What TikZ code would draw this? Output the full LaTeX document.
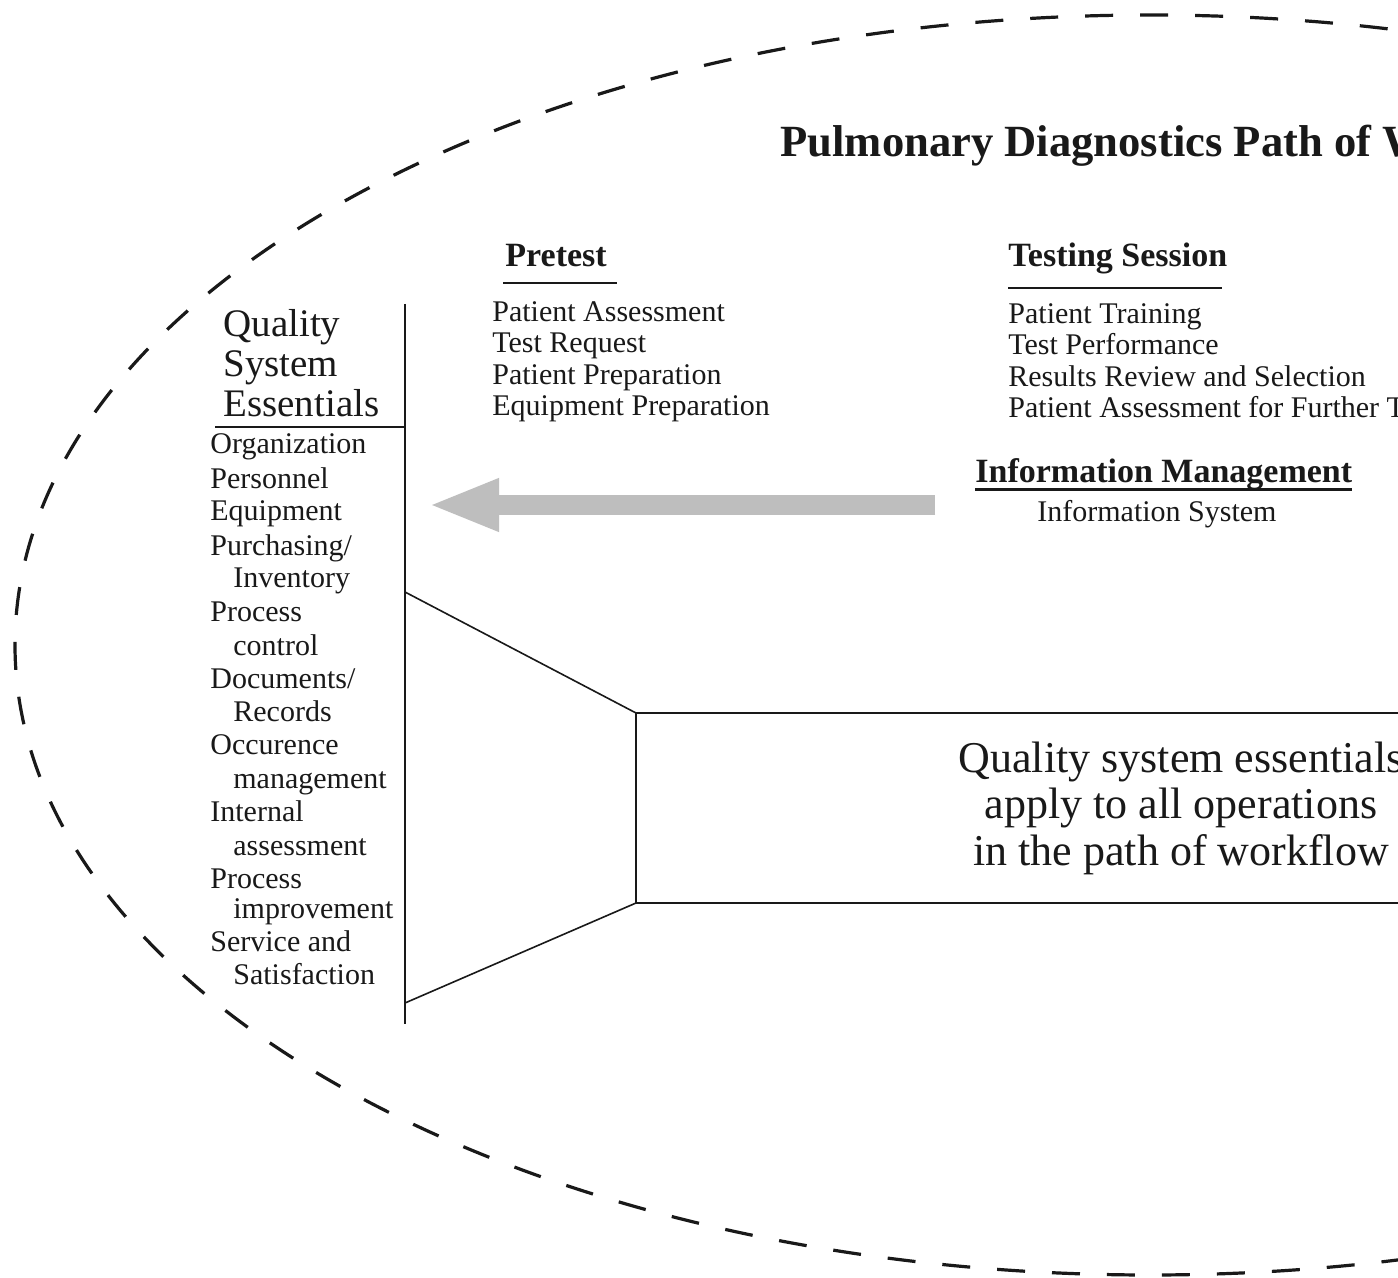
\documentclass[tikz,border=0pt]{standalone}
\usepackage{fontspec}
\setmainfont{Liberation Serif}
\usetikzlibrary{arrows.meta}
\definecolor{arrowgray}{RGB}{190,190,190}
\definecolor{ink}{RGB}{25,25,25}
\tikzset{
  txt/.style={anchor=base west, inner sep=0pt, text=ink, font=\fontsize{15}{16}\selectfont},
  headtxt/.style={anchor=base west, inner sep=0pt, text=ink, font=\fontsize{17}{19}\selectfont\bfseries},
  qsehead/.style={anchor=base west, inner sep=0pt, text=ink, font=\fontsize{19.5}{20}\selectfont},
  boxtxt/.style={anchor=base, inner sep=0pt, text=ink, font=\fontsize{22}{23}\selectfont},
  titletxt/.style={anchor=base west, inner sep=0pt, text=ink, font=\fontsize{22.3}{24}\selectfont\bfseries},
  rule/.style={draw=ink, line width=0.8pt},
  ovaldash/.style={draw=ink, line width=1.6pt, dash pattern=on 14pt off 13.5pt},
  bigarrow/.style={draw=arrowgray, line width=10pt, -{Triangle[length=35.5pt,width=24pt]}}
}
\begin{document}
\begin{tikzpicture}[x=0.5pt,y=-0.5pt]
\useasboundingbox (0,0) rectangle (1398,1278);
\clip (0,0) rectangle (1398,1278);
\fill[white] (0,0) rectangle (1398,1278);

% dashed oval
\draw[ovaldash] (1150,645) ellipse [x radius=1135, y radius=630];

% title
\node[titletxt] (title) at (780,157) {Pulmonary Diagnostics Path of Workflow};

% Pretest
\node[headtxt] (pretest) at (505,267) {Pretest};
\coordinate (pul) at (503,283);
\coordinate (pur) at (617,283);
\draw[rule, line width=1.3pt] (pul) -- (pur);
\node[txt] (p1) at (492,322) {Patient Assessment};
\node[txt] (p2) at (492,353) {Test Request};
\node[txt] (p3) at (492,385) {Patient Preparation};
\node[txt] (p4) at (492,416) {Equipment Preparation};

% Testing Session
\node[headtxt] (testing) at (1008,267) {Testing Session};
\coordinate (tul) at (1008,288);
\coordinate (tur) at (1222,288);
\draw[rule, line width=1.3pt] (tul) -- (tur);
\node[txt] (t1) at (1008,324) {Patient Training};
\node[txt] (t2) at (1008,355) {Test Performance};
\node[txt] (t3) at (1008,387) {Results Review and Selection};
\node[txt] (t4) at (1008,418) {Patient Assessment for Further Testing};

% Information Management
\node[headtxt] (info) at (975,483) {Information Management};
\coordinate (iul) at (975,490);
\coordinate (iur) at (1352,490);
\draw[rule, line width=1.5pt] (iul) -- (iur);
\node[txt] (i1) at (1037,522) {Information System};

% big gray arrow
\coordinate (arrS) at (935,505);
\coordinate (arrE) at (428,505);
\draw[bigarrow] (arrS) -- (arrE);

% Quality System Essentials heading
\node[qsehead] (q1) at (223,337) {Quality};
\node[qsehead] (q2) at (223,377) {System};
\node[qsehead] (q3) at (223,417) {Essentials};
\coordinate (vtop) at (405,304);
\coordinate (vbot) at (405,1024);
\draw[rule, line width=1.1pt] (vtop) -- (vbot);
\coordinate (hl) at (215,427);
\coordinate (hr) at (405,427);
\draw[rule, line width=1.1pt] (hl) -- (hr);

% QSE list
\foreach \yy/\xx/\tt [count=\i] in {
  454/210/Organization, 488/210/Personnel, 521/210/Equipment,
  555/210/Purchasing\slash, 588/233/Inventory, 621/210/Process,
  655/233/control, 688/210/Documents\slash, 721/233/Records,
  754/210/Occurence, 788/233/management, 821/210/Internal,
  855/233/assessment, 888/210/Process, 918/233/improvement,
  951/210/Service and, 984/233/Satisfaction}
  \node[txt] (qs\i) at (\xx,\yy) {\tt};

% funnel and box
\coordinate (fa) at (405,592);
\coordinate (fb) at (405,1003);
\coordinate (bl1) at (636,713);
\coordinate (bl2) at (636,903);
\coordinate (br1) at (1410,713);
\coordinate (br2) at (1410,903);
\draw[rule] (fa) -- (bl1) -- (br1);
\draw[rule] (fb) -- (bl2) -- (br2);
\draw[rule] (bl1) -- (bl2);

\node[boxtxt] (b1) at (1181,772) {Quality system essentials};
\node[boxtxt] (b2) at (1181,818) {apply to all operations};
\node[boxtxt] (b3) at (1181,865) {in the path of workflow};
\end{tikzpicture}
\end{document}
